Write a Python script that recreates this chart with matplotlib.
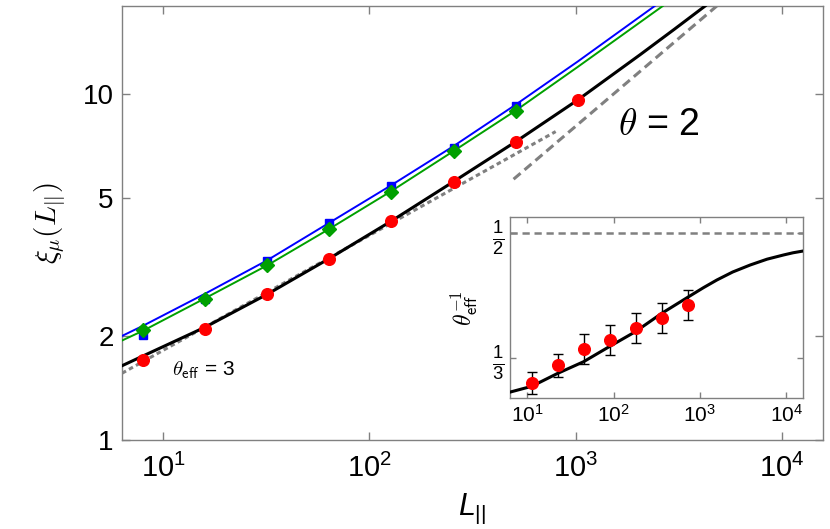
import numpy as np
import matplotlib
matplotlib.use("Agg")
import matplotlib.pyplot as plt
from matplotlib.ticker import FixedLocator, NullLocator, FixedFormatter

plt.rcParams['font.family'] = ['Liberation Sans', 'DejaVu Sans']
plt.rcParams['mathtext.fontset'] = 'custom'
plt.rcParams['mathtext.rm'] = 'Liberation Sans'
plt.rcParams['mathtext.it'] = 'Liberation Sans:italic'
plt.rcParams['mathtext.sf'] = 'Liberation Sans'
plt.rcParams['mathtext.bf'] = 'Liberation Sans:bold'

# data
L = [8, 16, 32, 64, 128, 256, 512]
L_red = [8, 16, 32, 64, 128, 256, 512, 1024]
xi_blue = [2.01, 2.55, 3.295, 4.24, 5.43, 7.0, 9.25]
xi_green = [2.08, 2.557, 3.21, 4.07, 5.23, 6.84, 8.95]
xi_red = [1.705, 2.10, 2.64, 3.346, 4.30, 5.59, 7.29, 9.63]

# fitted curves
Lc_blue = [6.33, 8, 16, 32, 64, 128, 256, 512, 1024, 2417]
c_blue = [2.0, 2.14, 2.65, 3.31, 4.25, 5.46, 7.08, 9.33, 12.44, 18.0]
Lc_green = [6.33, 8, 16, 32, 64, 128, 256, 512, 1024, 2644]
c_green = [1.94, 2.07, 2.57, 3.20, 4.08, 5.25, 6.85, 8.97, 12.0, 18.0]
Lc_black = [6.33, 8, 16, 32, 64, 128, 256, 512, 1024, 2048, 3000, 4240]
c_black = [1.64, 1.75, 2.12, 2.64, 3.35, 4.30, 5.59, 7.29, 9.63, 13.0, 15.4, 18.0]

# asymptotes
L_th3 = [6.33, 800]
xi_th3 = [1.56, 7.8]
L_th2 = [500, 4830]
xi_th2 = [5.68, 18.0]

# inset: effective exponent
L_in = [11.3, 22.6, 45.3, 90.5, 181, 362, 724]
inv_theta = [0.3005, 0.3240, 0.3453, 0.3576, 0.3731, 0.3864, 0.4036]
inv_err = [0.015, 0.015, 0.02, 0.02, 0.02, 0.02, 0.02]
Lc_in = [6.33, 11.3, 22.6, 45, 89, 179, 362, 724, 1100, 1574, 2400,
         3830, 6000, 9330, 12000, 15850]
c_in = [0.2885, 0.2962, 0.3134, 0.3288, 0.3487, 0.3686, 0.3930, 0.4143, 0.4270,
        0.4372, 0.4478, 0.4571, 0.4648, 0.4704, 0.4733, 0.4757]

gray = '#808080'

fig = plt.figure(figsize=(8.3, 5.29), dpi=100)
ax = fig.add_axes([0.147, 0.1682, 0.8446, 0.8205])
ax.set_xscale('log')
ax.set_yscale('log')

ax.plot(L_th3, xi_th3, color=gray, lw=2.2, ls=(0, (1.5, 1.1)), zorder=2)
ax.plot(L_th2, xi_th2, color=gray, lw=2.2, ls=(0, (3, 1.7)), zorder=2)
ax.plot(Lc_blue, c_blue, color='#0000ff', lw=1.4, zorder=3)
ax.plot(Lc_green, c_green, color='#00a000', lw=1.4, zorder=3)
ax.plot(Lc_black, c_black, color='black', lw=2.2, zorder=3)
ax.plot(L, xi_blue, 's', color='#0000ff', ms=6.2, zorder=4)
ax.plot(L, xi_green, 'D', color='#00a000', ms=7.2, zorder=5)
ax.plot(L_red, xi_red, 'o', color='#ff0000', ms=8.4, zorder=5)

ax.set_xlim(6.33, 15800)
ax.set_ylim(1, 18)
ax.xaxis.set_major_locator(FixedLocator([10, 100, 1000, 10000]))
ax.xaxis.set_minor_locator(NullLocator())
ax.yaxis.set_major_locator(FixedLocator([1, 2, 5, 10]))
ax.yaxis.set_major_formatter(FixedFormatter(['1', '2', '5', '10']))
ax.yaxis.set_minor_locator(NullLocator())
ax.tick_params(which='both', direction='in', top=True, right=True, length=6,
               width=1, color=gray, labelsize=20, pad=6)
ax.tick_params(axis='x', labelsize=21, pad=10)
for s in ax.spines.values():
    s.set_color(gray)
    s.set_linewidth(1)

ax.set_xlabel(r'$L_{||}$', fontsize=22, labelpad=6)
ax.set_ylabel(r'$\xi_\mu(L_{||})$', fontsize=21, labelpad=10, math_fontfamily='cm')

ax.text(0.765, 0.726, r'$\theta$ = 2', transform=ax.transAxes, fontsize=27,
        ha='center', va='center', math_fontfamily='cm')
ax.text(0.1156, 0.161, r'$\theta_{\mathsf{eff}}$ = 3', transform=ax.transAxes,
        fontsize=15, ha='center', va='center', math_fontfamily='cm')

# inset
ins = fig.add_axes([0.6145, 0.2471, 0.3534, 0.3422])
ins.set_xscale('log')
ins.axhline(0.5, color=gray, lw=1.8, ls=(0, (2.9, 1.9)))
ins.plot(Lc_in, c_in, color='black', lw=2.2, zorder=3)
ins.errorbar(L_in, inv_theta, yerr=inv_err, fmt='o', color='#ff0000', ms=8.4,
             ecolor='black', elinewidth=1, capsize=3.5, capthick=1, zorder=4)
ins.set_xlim(6.33, 15800)
ins.set_ylim(0.2803, 0.5204)
ins.xaxis.set_major_locator(FixedLocator([10, 100, 1000, 10000]))
ins.xaxis.set_minor_locator(NullLocator())
ins.yaxis.set_major_locator(FixedLocator([1 / 3, 1 / 2]))
ins.yaxis.set_major_formatter(FixedFormatter([r'$\frac{1}{3}$', r'$\frac{1}{2}$']))
ins.tick_params(which='both', direction='in', top=True, right=True, length=4,
                width=1, color=gray, labelsize=15, pad=4)
ins.tick_params(axis='y', labelsize=19)
for s in ins.spines.values():
    s.set_color(gray)
    s.set_linewidth(1)
ins.set_ylabel(r'$\theta_{\mathsf{eff}}^{-1}$', fontsize=17, labelpad=9, math_fontfamily='cm')

fig.savefig('out.png', dpi=100)
